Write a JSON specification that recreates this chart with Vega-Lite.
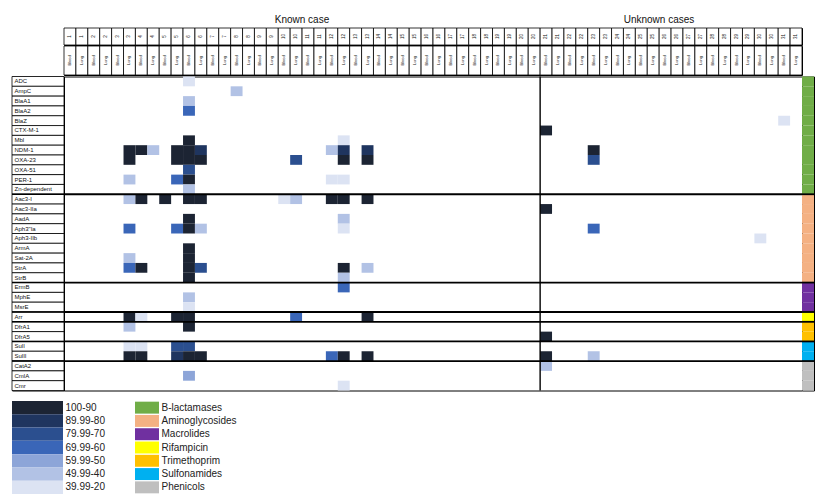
{
  "$schema": "https://vega.github.io/schema/vega-lite/v6.json",
  "padding": {"left": 10, "top": 11, "right": 0, "bottom": 0},
  "background": "white",
  "config": {
    "view": {"stroke": "#000", "strokeWidth": 1},
    "text": {"font": "Liberation Sans", "color": "#111"},
    "axis": {"labelFont": "Liberation Sans"}
  },
  "datasets": {
    "genes": [
      {"gene": "ADC", "group": "B-lactamases"}, {"gene": "AmpC", "group": "B-lactamases"}, {"gene": "BlaA1", "group": "B-lactamases"},
      {"gene": "BlaA2", "group": "B-lactamases"}, {"gene": "BlaZ", "group": "B-lactamases"}, {"gene": "CTX-M-1", "group": "B-lactamases"},
      {"gene": "Mbl", "group": "B-lactamases"}, {"gene": "NDM-1", "group": "B-lactamases"}, {"gene": "OXA-23", "group": "B-lactamases"},
      {"gene": "OXA-51", "group": "B-lactamases"}, {"gene": "PER-1", "group": "B-lactamases"}, {"gene": "Zn-dependent", "group": "B-lactamases"},
      {"gene": "Aac3-I", "group": "Aminoglycosides"}, {"gene": "Aac3-IIa", "group": "Aminoglycosides"}, {"gene": "AadA", "group": "Aminoglycosides"},
      {"gene": "Aph3\"Ia", "group": "Aminoglycosides"}, {"gene": "Aph3-IIb", "group": "Aminoglycosides"}, {"gene": "ArmA", "group": "Aminoglycosides"},
      {"gene": "Sat-2A", "group": "Aminoglycosides"}, {"gene": "StrA", "group": "Aminoglycosides"}, {"gene": "StrB", "group": "Aminoglycosides"},
      {"gene": "ErmB", "group": "Macrolides"}, {"gene": "MphE", "group": "Macrolides"}, {"gene": "MsrE", "group": "Macrolides"},
      {"gene": "Arr", "group": "Rifampicin"},
      {"gene": "DfrA1", "group": "Trimethoprim"}, {"gene": "DfrA5", "group": "Trimethoprim"},
      {"gene": "SulI", "group": "Sulfonamides"}, {"gene": "SulII", "group": "Sulfonamides"},
      {"gene": "CatA2", "group": "Phenicols"}, {"gene": "CmlA", "group": "Phenicols"}, {"gene": "Cmr", "group": "Phenicols"}
    ],
    "columns": [
      {"case": 1, "sample": "Blood"}, {"case": 1, "sample": "Lung"}, {"case": 2, "sample": "Blood"}, {"case": 2, "sample": "Lung"},
      {"case": 3, "sample": "Blood"}, {"case": 3, "sample": "Lung"}, {"case": 4, "sample": "Blood"}, {"case": 4, "sample": "Lung"},
      {"case": 5, "sample": "Blood"}, {"case": 5, "sample": "Lung"}, {"case": 6, "sample": "Blood"}, {"case": 6, "sample": "Lung"},
      {"case": 7, "sample": "Blood"}, {"case": 7, "sample": "Lung"}, {"case": 8, "sample": "Blood"}, {"case": 8, "sample": "Lung"},
      {"case": 9, "sample": "Blood"}, {"case": 9, "sample": "Lung"}, {"case": 10, "sample": "Blood"}, {"case": 10, "sample": "Lung"},
      {"case": 11, "sample": "Blood"}, {"case": 11, "sample": "Lung"}, {"case": 12, "sample": "Blood"}, {"case": 12, "sample": "Lung"},
      {"case": 13, "sample": "Blood"}, {"case": 13, "sample": "Lung"}, {"case": 14, "sample": "Blood"}, {"case": 14, "sample": "Lung"},
      {"case": 15, "sample": "Blood"}, {"case": 15, "sample": "Lung"}, {"case": 16, "sample": "Blood"}, {"case": 16, "sample": "Lung"},
      {"case": 17, "sample": "Blood"}, {"case": 17, "sample": "Lung"}, {"case": 18, "sample": "Blood"}, {"case": 18, "sample": "Lung"},
      {"case": 19, "sample": "Blood"}, {"case": 19, "sample": "Lung"}, {"case": 20, "sample": "Blood"}, {"case": 20, "sample": "Lung"},
      {"case": 21, "sample": "Blood"}, {"case": 21, "sample": "Lung"}, {"case": 22, "sample": "Blood"}, {"case": 22, "sample": "Lung"},
      {"case": 23, "sample": "Blood"}, {"case": 23, "sample": "Lung"}, {"case": 24, "sample": "Blood"}, {"case": 24, "sample": "Lung"},
      {"case": 25, "sample": "Blood"}, {"case": 25, "sample": "Lung"}, {"case": 26, "sample": "Blood"}, {"case": 26, "sample": "Lung"},
      {"case": 27, "sample": "Blood"}, {"case": 27, "sample": "Lung"}, {"case": 28, "sample": "Blood"}, {"case": 28, "sample": "Lung"},
      {"case": 29, "sample": "Blood"}, {"case": 29, "sample": "Lung"}, {"case": 30, "sample": "Blood"}, {"case": 30, "sample": "Lung"},
      {"case": 31, "sample": "Blood"}, {"case": 31, "sample": "Lung"}
    ],
    "cells": [
      {"gene": "ADC", "case": 6, "sample": "Blood", "level": "39.99-20"},
      {"gene": "AmpC", "case": 8, "sample": "Blood", "level": "49.99-40"},
      {"gene": "BlaA1", "case": 6, "sample": "Blood", "level": "49.99-40"},
      {"gene": "BlaA2", "case": 6, "sample": "Blood", "level": "69.99-60"},
      {"gene": "BlaZ", "case": 31, "sample": "Blood", "level": "39.99-20"},
      {"gene": "CTX-M-1", "case": 21, "sample": "Blood", "level": "100-90"},
      {"gene": "Mbl", "case": 6, "sample": "Blood", "level": "100-90"},
      {"gene": "Mbl", "case": 12, "sample": "Lung", "level": "39.99-20"},
      {"gene": "NDM-1", "case": 3, "sample": "Lung", "level": "100-90"},
      {"gene": "NDM-1", "case": 4, "sample": "Blood", "level": "100-90"},
      {"gene": "NDM-1", "case": 4, "sample": "Lung", "level": "49.99-40"},
      {"gene": "NDM-1", "case": 5, "sample": "Lung", "level": "100-90"},
      {"gene": "NDM-1", "case": 6, "sample": "Blood", "level": "100-90"},
      {"gene": "NDM-1", "case": 6, "sample": "Lung", "level": "89.99-80"},
      {"gene": "NDM-1", "case": 12, "sample": "Blood", "level": "49.99-40"},
      {"gene": "NDM-1", "case": 12, "sample": "Lung", "level": "89.99-80"},
      {"gene": "NDM-1", "case": 13, "sample": "Lung", "level": "89.99-80"},
      {"gene": "NDM-1", "case": 23, "sample": "Blood", "level": "100-90"},
      {"gene": "OXA-23", "case": 3, "sample": "Lung", "level": "100-90"},
      {"gene": "OXA-23", "case": 5, "sample": "Lung", "level": "100-90"},
      {"gene": "OXA-23", "case": 6, "sample": "Blood", "level": "100-90"},
      {"gene": "OXA-23", "case": 6, "sample": "Lung", "level": "100-90"},
      {"gene": "OXA-23", "case": 10, "sample": "Lung", "level": "79.99-70"},
      {"gene": "OXA-23", "case": 12, "sample": "Lung", "level": "100-90"},
      {"gene": "OXA-23", "case": 13, "sample": "Lung", "level": "100-90"},
      {"gene": "OXA-23", "case": 23, "sample": "Blood", "level": "79.99-70"},
      {"gene": "OXA-51", "case": 6, "sample": "Blood", "level": "79.99-70"},
      {"gene": "PER-1", "case": 3, "sample": "Lung", "level": "49.99-40"},
      {"gene": "PER-1", "case": 5, "sample": "Lung", "level": "69.99-60"},
      {"gene": "PER-1", "case": 6, "sample": "Blood", "level": "100-90"},
      {"gene": "PER-1", "case": 12, "sample": "Blood", "level": "39.99-20"},
      {"gene": "PER-1", "case": 12, "sample": "Lung", "level": "39.99-20"},
      {"gene": "Zn-dependent", "case": 6, "sample": "Blood", "level": "49.99-40"},
      {"gene": "Aac3-I", "case": 3, "sample": "Lung", "level": "49.99-40"},
      {"gene": "Aac3-I", "case": 4, "sample": "Blood", "level": "100-90"},
      {"gene": "Aac3-I", "case": 5, "sample": "Blood", "level": "100-90"},
      {"gene": "Aac3-I", "case": 6, "sample": "Blood", "level": "100-90"},
      {"gene": "Aac3-I", "case": 6, "sample": "Lung", "level": "100-90"},
      {"gene": "Aac3-I", "case": 10, "sample": "Blood", "level": "39.99-20"},
      {"gene": "Aac3-I", "case": 10, "sample": "Lung", "level": "49.99-40"},
      {"gene": "Aac3-I", "case": 12, "sample": "Blood", "level": "100-90"},
      {"gene": "Aac3-I", "case": 12, "sample": "Lung", "level": "100-90"},
      {"gene": "Aac3-I", "case": 13, "sample": "Lung", "level": "100-90"},
      {"gene": "Aac3-IIa", "case": 21, "sample": "Blood", "level": "100-90"},
      {"gene": "AadA", "case": 6, "sample": "Blood", "level": "100-90"},
      {"gene": "AadA", "case": 12, "sample": "Lung", "level": "49.99-40"},
      {"gene": "Aph3\"Ia", "case": 3, "sample": "Lung", "level": "69.99-60"},
      {"gene": "Aph3\"Ia", "case": 5, "sample": "Lung", "level": "69.99-60"},
      {"gene": "Aph3\"Ia", "case": 6, "sample": "Blood", "level": "100-90"},
      {"gene": "Aph3\"Ia", "case": 6, "sample": "Lung", "level": "49.99-40"},
      {"gene": "Aph3\"Ia", "case": 12, "sample": "Lung", "level": "39.99-20"},
      {"gene": "Aph3\"Ia", "case": 23, "sample": "Blood", "level": "69.99-60"},
      {"gene": "Aph3-IIb", "case": 30, "sample": "Blood", "level": "39.99-20"},
      {"gene": "ArmA", "case": 6, "sample": "Blood", "level": "100-90"},
      {"gene": "Sat-2A", "case": 3, "sample": "Lung", "level": "49.99-40"},
      {"gene": "Sat-2A", "case": 6, "sample": "Blood", "level": "100-90"},
      {"gene": "StrA", "case": 3, "sample": "Lung", "level": "69.99-60"},
      {"gene": "StrA", "case": 4, "sample": "Blood", "level": "100-90"},
      {"gene": "StrA", "case": 6, "sample": "Blood", "level": "100-90"},
      {"gene": "StrA", "case": 6, "sample": "Lung", "level": "79.99-70"},
      {"gene": "StrA", "case": 12, "sample": "Lung", "level": "100-90"},
      {"gene": "StrA", "case": 13, "sample": "Lung", "level": "49.99-40"},
      {"gene": "StrB", "case": 6, "sample": "Blood", "level": "100-90"},
      {"gene": "StrB", "case": 12, "sample": "Lung", "level": "49.99-40"},
      {"gene": "ErmB", "case": 12, "sample": "Lung", "level": "69.99-60"},
      {"gene": "MphE", "case": 6, "sample": "Blood", "level": "49.99-40"},
      {"gene": "MsrE", "case": 6, "sample": "Blood", "level": "39.99-20"},
      {"gene": "Arr", "case": 3, "sample": "Lung", "level": "100-90"},
      {"gene": "Arr", "case": 4, "sample": "Blood", "level": "39.99-20"},
      {"gene": "Arr", "case": 5, "sample": "Lung", "level": "100-90"},
      {"gene": "Arr", "case": 6, "sample": "Blood", "level": "100-90"},
      {"gene": "Arr", "case": 10, "sample": "Lung", "level": "69.99-60"},
      {"gene": "Arr", "case": 13, "sample": "Lung", "level": "100-90"},
      {"gene": "DfrA1", "case": 3, "sample": "Lung", "level": "49.99-40"},
      {"gene": "DfrA1", "case": 6, "sample": "Blood", "level": "100-90"},
      {"gene": "DfrA5", "case": 21, "sample": "Blood", "level": "100-90"},
      {"gene": "SulI", "case": 3, "sample": "Lung", "level": "39.99-20"},
      {"gene": "SulI", "case": 4, "sample": "Blood", "level": "39.99-20"},
      {"gene": "SulI", "case": 5, "sample": "Lung", "level": "79.99-70"},
      {"gene": "SulI", "case": 6, "sample": "Blood", "level": "79.99-70"},
      {"gene": "SulII", "case": 3, "sample": "Lung", "level": "100-90"},
      {"gene": "SulII", "case": 4, "sample": "Blood", "level": "100-90"},
      {"gene": "SulII", "case": 5, "sample": "Lung", "level": "89.99-80"},
      {"gene": "SulII", "case": 6, "sample": "Blood", "level": "100-90"},
      {"gene": "SulII", "case": 6, "sample": "Lung", "level": "100-90"},
      {"gene": "SulII", "case": 12, "sample": "Blood", "level": "69.99-60"},
      {"gene": "SulII", "case": 12, "sample": "Lung", "level": "100-90"},
      {"gene": "SulII", "case": 13, "sample": "Lung", "level": "100-90"},
      {"gene": "SulII", "case": 21, "sample": "Blood", "level": "100-90"},
      {"gene": "SulII", "case": 23, "sample": "Blood", "level": "49.99-40"},
      {"gene": "CatA2", "case": 21, "sample": "Blood", "level": "49.99-40"},
      {"gene": "CmlA", "case": 6, "sample": "Blood", "level": "59.99-50"},
      {"gene": "Cmr", "case": 12, "sample": "Lung", "level": "39.99-20"}
    ],
    "levels": [
      {"level": "100-90"}, {"level": "89.99-80"}, {"level": "79.99-70"}, {"level": "69.99-60"},
      {"level": "59.99-50"}, {"level": "49.99-40"}, {"level": "39.99-20"}
    ],
    "groups": [
      {"group": "B-lactamases"}, {"group": "Aminoglycosides"}, {"group": "Macrolides"}, {"group": "Rifampicin"},
      {"group": "Trimethoprim"}, {"group": "Sulfonamides"}, {"group": "Phenicols"}
    ]
  },
  "vconcat": [
    {
      "vconcat": [
        {
          "hconcat": [
            {"width": 52, "height": 17, "data": {"values": []}, "mark": "point"},
            {"width": 476, "height": 17, "data": {"values": [{"label": "Known case"}]}, "mark": {"type": "text", "fontSize": 10}, "encoding": {"text": {"field": "label"}}},
            {"width": 262, "height": 17, "data": {"values": [{"label": "Unknown cases"}]}, "mark": {"type": "text", "fontSize": 10, "dx": -12}, "encoding": {"text": {"field": "label"}}},
            {"width": 12, "height": 17, "data": {"values": []}, "mark": "point"}
          ],
          "spacing": 0, "bounds": "flush"
        },
        {
          "hconcat": [
            {"width": 52, "height": 17, "data": {"values": []}, "mark": "point"},
            {
              "width": 738, "height": 17, "data": {"name": "columns"},
              "layer": [
                {"mark": {"type": "rect", "fill": "white", "stroke": "#000", "strokeWidth": 0.8},
                 "encoding": {
                   "x": {"field": "case", "type": "ordinal", "scale": {"domain": [1,2,3,4,5,6,7,8,9,10,11,12,13,14,15,16,17,18,19,20,21,22,23,24,25,26,27,28,29,30,31], "paddingInner": 0, "paddingOuter": 0}, "axis": null},
                   "xOffset": {"field": "sample", "type": "nominal", "scale": {"domain": ["Blood", "Lung"], "paddingInner": 0, "paddingOuter": 0}}}},
                {"mark": {"type": "text", "angle": 270, "fontSize": 4.5},
                 "encoding": {
                   "x": {"field": "case", "type": "ordinal", "scale": {"domain": [1,2,3,4,5,6,7,8,9,10,11,12,13,14,15,16,17,18,19,20,21,22,23,24,25,26,27,28,29,30,31], "paddingInner": 0, "paddingOuter": 0}, "axis": null},
                   "xOffset": {"field": "sample", "type": "nominal", "scale": {"domain": ["Blood", "Lung"], "paddingInner": 0, "paddingOuter": 0}},
                   "text": {"field": "case", "type": "ordinal"}}}
              ]
            },
            {"width": 12, "height": 17, "data": {"values": []}, "mark": "point"}
          ],
          "spacing": 0, "bounds": "flush"
        },
        {
          "hconcat": [
            {"width": 52, "height": 29, "data": {"values": []}, "mark": "point"},
            {
              "width": 738, "height": 29, "data": {"name": "columns"},
              "layer": [
                {"mark": {"type": "rect", "fill": "white", "stroke": "#000", "strokeWidth": 0.8},
                 "encoding": {
                   "x": {"field": "case", "type": "ordinal", "scale": {"domain": [1,2,3,4,5,6,7,8,9,10,11,12,13,14,15,16,17,18,19,20,21,22,23,24,25,26,27,28,29,30,31], "paddingInner": 0, "paddingOuter": 0}, "axis": null},
                   "xOffset": {"field": "sample", "type": "nominal", "scale": {"domain": ["Blood", "Lung"], "paddingInner": 0, "paddingOuter": 0}}}},
                {"mark": {"type": "text", "angle": 270, "fontSize": 4},
                 "encoding": {
                   "x": {"field": "case", "type": "ordinal", "scale": {"domain": [1,2,3,4,5,6,7,8,9,10,11,12,13,14,15,16,17,18,19,20,21,22,23,24,25,26,27,28,29,30,31], "paddingInner": 0, "paddingOuter": 0}, "axis": null},
                   "xOffset": {"field": "sample", "type": "nominal", "scale": {"domain": ["Blood", "Lung"], "paddingInner": 0, "paddingOuter": 0}},
                   "text": {"field": "sample", "type": "nominal"}}}
              ]
            },
            {"width": 12, "height": 29, "data": {"values": []}, "mark": "point"}
          ],
          "spacing": 0, "bounds": "flush"
        },
        {
          "hconcat": [
            {
              "width": 52, "height": 314, "data": {"name": "genes"},
              "layer": [
                {
                  "mark": {"type": "rect", "fill": "white", "stroke": "#000", "strokeWidth": 0.8},
                  "encoding": {
                    "y": {"field": "gene", "type": "nominal",
                          "scale": {"domain": ["ADC","AmpC","BlaA1","BlaA2","BlaZ","CTX-M-1","Mbl","NDM-1","OXA-23","OXA-51","PER-1","Zn-dependent","Aac3-I","Aac3-IIa","AadA","Aph3\"Ia","Aph3-IIb","ArmA","Sat-2A","StrA","StrB","ErmB","MphE","MsrE","Arr","DfrA1","DfrA5","SulI","SulII","CatA2","CmlA","Cmr"], "paddingInner": 0, "paddingOuter": 0},
                          "axis": {"orient": "left", "title": null, "domain": false, "ticks": false, "tickSize": 0, "labelAlign": "left", "labelPadding": -2, "labelFontSize": 6, "labelColor": "#111", "labelOverlap": false}}
                  }
                },
                {
                  "transform": [
                    {"window": [{"op": "row_number", "as": "rn"}], "groupby": ["group"]},
                    {"filter": "datum.rn === 1 && datum.group !== 'B-lactamases'"}
                  ],
                  "mark": {"type": "rule", "color": "#000", "strokeWidth": 1.6},
                  "encoding": {
                    "y": {"field": "gene", "type": "nominal", "bandPosition": 0,
                          "scale": {"domain": ["ADC","AmpC","BlaA1","BlaA2","BlaZ","CTX-M-1","Mbl","NDM-1","OXA-23","OXA-51","PER-1","Zn-dependent","Aac3-I","Aac3-IIa","AadA","Aph3\"Ia","Aph3-IIb","ArmA","Sat-2A","StrA","StrB","ErmB","MphE","MsrE","Arr","DfrA1","DfrA5","SulI","SulII","CatA2","CmlA","Cmr"], "paddingInner": 0, "paddingOuter": 0}}
                  }
                }
              ]
            },
            {
              "width": 738, "height": 314,
              "layer": [
                {
                  "data": {"name": "cells"},
                  "mark": {"type": "rect"},
                  "encoding": {
                    "x": {"field": "case", "type": "ordinal", "scale": {"domain": [1,2,3,4,5,6,7,8,9,10,11,12,13,14,15,16,17,18,19,20,21,22,23,24,25,26,27,28,29,30,31], "paddingInner": 0, "paddingOuter": 0}, "axis": null},
                    "xOffset": {"field": "sample", "type": "nominal", "scale": {"domain": ["Blood", "Lung"], "paddingInner": 0, "paddingOuter": 0}},
                    "y": {"field": "gene", "type": "nominal",
                          "scale": {"domain": ["ADC","AmpC","BlaA1","BlaA2","BlaZ","CTX-M-1","Mbl","NDM-1","OXA-23","OXA-51","PER-1","Zn-dependent","Aac3-I","Aac3-IIa","AadA","Aph3\"Ia","Aph3-IIb","ArmA","Sat-2A","StrA","StrB","ErmB","MphE","MsrE","Arr","DfrA1","DfrA5","SulI","SulII","CatA2","CmlA","Cmr"], "paddingInner": 0, "paddingOuter": 0},
                          "axis": null},
                    "fill": {"field": "level", "type": "nominal",
                             "scale": {"domain": ["100-90","89.99-80","79.99-70","69.99-60","59.99-50","49.99-40","39.99-20"],
                                       "range": ["#1c2433","#1f355f","#2b4f8f","#3a66b8","#8da5d8","#b2c2e5","#dce3f3"]},
                             "legend": null}
                  }
                },
                {
                  "data": {"name": "genes"},
                  "transform": [
                    {"window": [{"op": "row_number", "as": "rn"}], "groupby": ["group"]},
                    {"filter": "datum.rn === 1 && datum.group !== 'B-lactamases'"}
                  ],
                  "mark": {"type": "rule", "color": "#000", "strokeWidth": 1.8},
                  "encoding": {
                    "y": {"field": "gene", "type": "nominal", "bandPosition": 0,
                          "scale": {"domain": ["ADC","AmpC","BlaA1","BlaA2","BlaZ","CTX-M-1","Mbl","NDM-1","OXA-23","OXA-51","PER-1","Zn-dependent","Aac3-I","Aac3-IIa","AadA","Aph3\"Ia","Aph3-IIb","ArmA","Sat-2A","StrA","StrB","ErmB","MphE","MsrE","Arr","DfrA1","DfrA5","SulI","SulII","CatA2","CmlA","Cmr"], "paddingInner": 0, "paddingOuter": 0},
                          "axis": null}
                  }
                },
                {
                  "data": {"values": [{"case": 21}]},
                  "mark": {"type": "rule", "color": "#000", "strokeWidth": 1.4},
                  "encoding": {
                    "x": {"field": "case", "type": "ordinal", "bandPosition": 0, "scale": {"domain": [1,2,3,4,5,6,7,8,9,10,11,12,13,14,15,16,17,18,19,20,21,22,23,24,25,26,27,28,29,30,31], "paddingInner": 0, "paddingOuter": 0}, "axis": null}
                  }
                }
              ]
            },
            {
              "width": 12, "height": 314, "data": {"name": "genes"},
              "layer": [
                {
                  "mark": {"type": "rect"},
                  "encoding": {
                    "y": {"field": "gene", "type": "nominal",
                          "scale": {"domain": ["ADC","AmpC","BlaA1","BlaA2","BlaZ","CTX-M-1","Mbl","NDM-1","OXA-23","OXA-51","PER-1","Zn-dependent","Aac3-I","Aac3-IIa","AadA","Aph3\"Ia","Aph3-IIb","ArmA","Sat-2A","StrA","StrB","ErmB","MphE","MsrE","Arr","DfrA1","DfrA5","SulI","SulII","CatA2","CmlA","Cmr"], "paddingInner": 0, "paddingOuter": 0},
                          "axis": null},
                    "color": {"field": "group", "type": "nominal",
                              "scale": {"domain": ["B-lactamases","Aminoglycosides","Macrolides","Rifampicin","Trimethoprim","Sulfonamides","Phenicols"],
                                        "range": ["#70ad47","#f4b183","#7030a0","#ffff00","#ffc000","#00b0f0","#bfbfbf"]},
                              "legend": null}
                  }
                },
                {
                  "transform": [
                    {"window": [{"op": "row_number", "as": "rn"}], "groupby": ["group"]},
                    {"filter": "datum.rn === 1 && datum.group !== 'B-lactamases'"}
                  ],
                  "mark": {"type": "rule", "color": "#000", "strokeWidth": 1.8},
                  "encoding": {
                    "y": {"field": "gene", "type": "nominal", "bandPosition": 0,
                          "scale": {"domain": ["ADC","AmpC","BlaA1","BlaA2","BlaZ","CTX-M-1","Mbl","NDM-1","OXA-23","OXA-51","PER-1","Zn-dependent","Aac3-I","Aac3-IIa","AadA","Aph3\"Ia","Aph3-IIb","ArmA","Sat-2A","StrA","StrB","ErmB","MphE","MsrE","Arr","DfrA1","DfrA5","SulI","SulII","CatA2","CmlA","Cmr"], "paddingInner": 0, "paddingOuter": 0},
                          "axis": null}
                  }
                }
              ]
            }
          ],
          "spacing": 0, "bounds": "flush"
        }
      ],
      "spacing": -1.5, "bounds": "full"
    },
    {
      "hconcat": [
        {
          "width": 51, "height": 93, "view": {"stroke": null}, "data": {"name": "levels"},
          "mark": {"type": "rect"},
          "encoding": {
            "y": {"field": "level", "type": "nominal",
                  "scale": {"domain": ["100-90","89.99-80","79.99-70","69.99-60","59.99-50","49.99-40","39.99-20"], "paddingInner": 0, "paddingOuter": 0},
                  "axis": {"orient": "right", "title": null, "domain": false, "ticks": false, "tickSize": 0, "labelPadding": 2, "labelFontSize": 10, "labelColor": "#222", "labelOverlap": false}},
            "fill": {"field": "level", "type": "nominal",
                     "scale": {"domain": ["100-90","89.99-80","79.99-70","69.99-60","59.99-50","49.99-40","39.99-20"],
                               "range": ["#1c2433","#1f355f","#2b4f8f","#3a66b8","#8da5d8","#b2c2e5","#dce3f3"]},
                     "legend": null}
          }
        },
        {
          "width": 24, "height": 93, "view": {"stroke": null}, "data": {"name": "groups"},
          "mark": {"type": "rect"},
          "encoding": {
            "y": {"field": "group", "type": "nominal",
                  "scale": {"domain": ["B-lactamases","Aminoglycosides","Macrolides","Rifampicin","Trimethoprim","Sulfonamides","Phenicols"], "paddingInner": 0.1, "paddingOuter": 0.05},
                  "axis": {"orient": "right", "title": null, "domain": false, "ticks": false, "tickSize": 0, "labelPadding": 2, "labelFontSize": 10, "labelColor": "#222", "labelOverlap": false}},
            "color": {"field": "group", "type": "nominal",
                      "scale": {"domain": ["B-lactamases","Aminoglycosides","Macrolides","Rifampicin","Trimethoprim","Sulfonamides","Phenicols"],
                                "range": ["#70ad47","#f4b183","#7030a0","#ffff00","#ffc000","#00b0f0","#bfbfbf"]},
                      "legend": null}
          }
        }
      ],
      "spacing": 72, "bounds": "flush"
    }
  ],
  "spacing": 9,
  "bounds": "full"
}
